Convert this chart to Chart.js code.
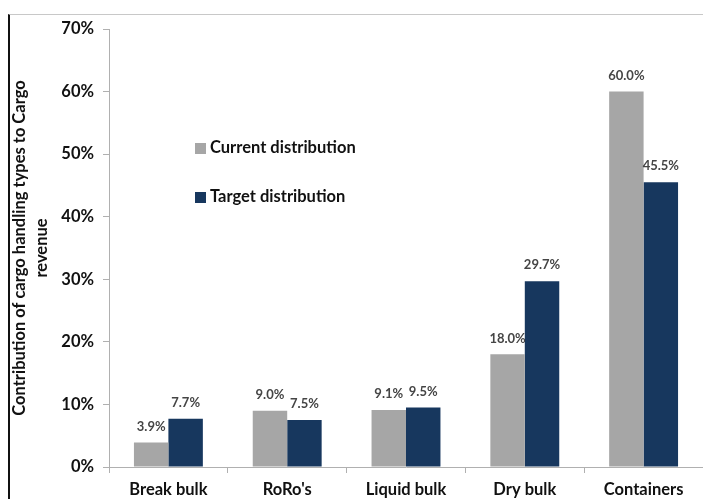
<!DOCTYPE html>
<html>
<head>
<meta charset="utf-8">
<script src="https://cdn.jsdelivr.net/npm/chart.js@4"></script>
<style>
  html, body { margin: 0; padding: 0; background: #fff; }
  #wrap { position: relative; width: 703px; height: 499px; }
  #frame { position: absolute; left: 8px; top: 14px; right: 0; bottom: 0;
           border-left: 2px solid #111; border-top: 1px solid #c8c8c8; }
  canvas { position: absolute; left: 0; top: 0; }
</style>
</head>
<body>
<div id="wrap">
  <div id="frame"></div>
  <canvas id="chart" width="703" height="499"></canvas>
</div>
<script>
const categories = ['Break bulk', "RoRo's", 'Liquid bulk', 'Dry bulk', 'Containers'];
const currentDistribution = [3.9, 9.0, 9.1, 18.0, 60.0];
const targetDistribution = [7.7, 7.5, 9.5, 29.7, 45.5];
const seriesNames = ['Current distribution', 'Target distribution'];
const yTicks = [0, 10, 20, 30, 40, 50, 60, 70];

const FONT = 'Lato, "Open Sans", sans-serif';

// value labels above each bar
const barLabels = {
  id: 'barLabels',
  afterDatasetsDraw(chart) {
    const ctx = chart.ctx;
    ctx.save();
    ctx.font = 'bold 13px ' + FONT;
    ctx.fillStyle = '#454545';
    ctx.textAlign = 'center';
    ctx.textBaseline = 'middle';
    chart.data.datasets.forEach((ds, i) => {
      chart.getDatasetMeta(i).data.forEach((bar, j) => {
        ctx.fillText(ds.data[j].toFixed(1) + '%', bar.x, bar.y - 16);
      });
    });
    ctx.restore();
  }
};

// legend sitting inside the plot area
const innerLegend = {
  id: 'innerLegend',
  afterDraw(chart, args, opts) {
    const ctx = chart.ctx;
    ctx.save();
    ctx.font = 'bold 16.5px ' + FONT;
    ctx.textBaseline = 'middle';
    chart.data.datasets.forEach((ds, i) => {
      const y = opts.y + i * opts.gap;
      ctx.fillStyle = ds.backgroundColor;
      ctx.fillRect(opts.x, y - 5, 11, 11);
      ctx.fillStyle = '#111';
      ctx.fillText(ds.label, opts.x + 15, y);
    });
    ctx.restore();
  }
};

new Chart(document.getElementById('chart'), {
  type: 'bar',
  data: {
    labels: categories,
    datasets: [
      { label: seriesNames[0], data: currentDistribution, backgroundColor: '#a6a6a6' },
      { label: seriesNames[1], data: targetDistribution, backgroundColor: '#17375e' }
    ]
  },
  options: {
    responsive: false,
    animation: false,
    layout: { padding: { top: 29, right: 0, bottom: 0, left: 0 } },
    datasets: { bar: { categoryPercentage: 0.58, barPercentage: 1.0 } },
    plugins: {
      legend: { display: false },
      tooltip: { enabled: false },
      innerLegend: { x: 195, y: 148, gap: 49 }
    },
    scales: {
      x: {
        grid: { display: true, drawOnChartArea: false, drawTicks: true, tickLength: 6, color: '#b0b0b0', offset: true },
        border: { color: '#b0b0b0', width: 1 },
        ticks: { color: '#111', font: { family: FONT, size: 16.5, weight: 'bold' }, padding: 7 },
        afterFit(scale) { scale.height = 32; }
      },
      y: {
        min: 0,
        max: 70,
        afterBuildTicks(scale) { scale.ticks = yTicks.map(v => ({ value: v })); },
        grid: { display: true, drawOnChartArea: false, drawTicks: true, tickLength: 6, color: '#b0b0b0' },
        border: { color: '#b0b0b0', width: 1 },
        ticks: {
          color: '#111',
          font: { family: FONT, size: 16.5, weight: 'bold' },
          padding: 9,
          callback: v => v + '%'
        },
        title: {
          display: true,
          text: ['Contribution of cargo handling types to Cargo', 'revenue'],
          color: '#111',
          font: { family: FONT, size: 16.5, weight: 'bold', lineHeight: 1.33 },
          padding: { top: 9, bottom: 0 }
        },
        afterFit(scale) { scale.width = 109; }
      }
    }
  },
  plugins: [barLabels, innerLegend]
});
</script>
</body>
</html>
